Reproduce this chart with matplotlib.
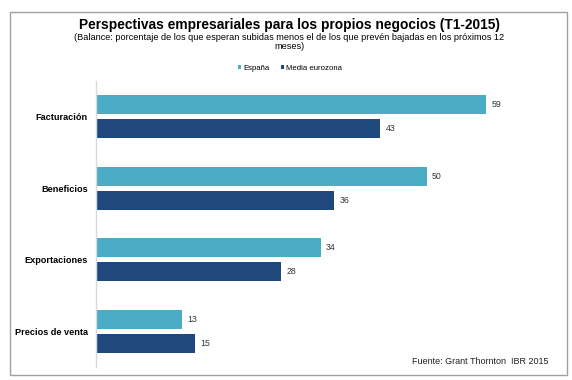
import matplotlib
matplotlib.use("Agg")
import matplotlib.pyplot as plt
import numpy as np
from matplotlib.patches import Rectangle

categories = ["Facturación", "Beneficios", "Exportaciones", "Precios de venta"]
espana = [59, 50, 34, 13]
eurozona = [43, 36, 28, 15]
series_names = ["España", "Media eurozona"]
colors = ["#4BACC6", "#1F497D"]

plt.rcParams['font.family'] = ['Liberation Sans', 'DejaVu Sans']

W, H = 572, 380
fig = plt.figure(figsize=(W/100, H/100), dpi=100)

def fx(px): return px / W
def fy(py): return 1 - py / H

# outer border
fig.patches.append(Rectangle((fx(10), fy(375)), fx(567) - fx(10), fy(12) - fy(375),
                             transform=fig.transFigure, fill=False,
                             edgecolor="#A0A0A0", linewidth=1.0))

ax_l, ax_r, ax_t, ax_b = 96, 560, 81, 367
ax = fig.add_axes([fx(ax_l), fy(ax_b), fx(ax_r) - fx(ax_l), fy(ax_t) - fy(ax_b)])

n = len(categories)
y = np.arange(n)
bh = 0.265
off = 0.167
b1 = ax.barh(y - off, espana, height=bh, color=colors[0], label=series_names[0])
b2 = ax.barh(y + off, eurozona, height=bh, color=colors[1], label=series_names[1])

for bars, vals in ((b1, espana), (b2, eurozona)):
    for rect, v in zip(bars, vals):
        ax.text(rect.get_width() + 0.8, rect.get_y() + rect.get_height() / 2, str(v),
                va="center", ha="left", fontsize=6.3, color="#333333")

ax.set_ylim(n - 0.5, -0.5)
ax.set_xlim(0, (ax_r - ax_l) / 6.61)
ax.set_yticks(y)
ax.set_yticklabels(categories, fontsize=6.6, fontweight="bold")
ax.tick_params(axis="y", length=0, pad=6)
ax.set_xticks([])
for s in ("top", "right", "bottom"):
    ax.spines[s].set_visible(False)
ax.spines["left"].set_color("#D9D9D9")
ax.spines["left"].set_linewidth(1.0)

fig.text(fx(289), fy(25), "Perspectivas empresariales para los propios negocios (T1-2015)",
         ha="center", va="center", fontsize=9.9, fontweight="bold")
fig.text(fx(289), fy(42), "(Balance: porcentaje de los que esperan subidas menos el de los que prevén bajadas en los próximos 12\nmeses)",
         ha="center", va="center", fontsize=6.55, linespacing=1.0)

leg = fig.legend(handles=[b1, b2], labels=series_names, loc="center",
                 bbox_to_anchor=(fx(290), fy(68)), ncol=2, frameon=False,
                 fontsize=5.6, handlelength=0.45, handleheight=0.45, handletextpad=0.3,
                 columnspacing=1.4)

fig.text(fx(548), fy(361), "Fuente: Grant Thornton  IBR 2015", ha="right", va="center",
         fontsize=6.5, color="#222222")

fig.savefig("out.png", dpi=100)
